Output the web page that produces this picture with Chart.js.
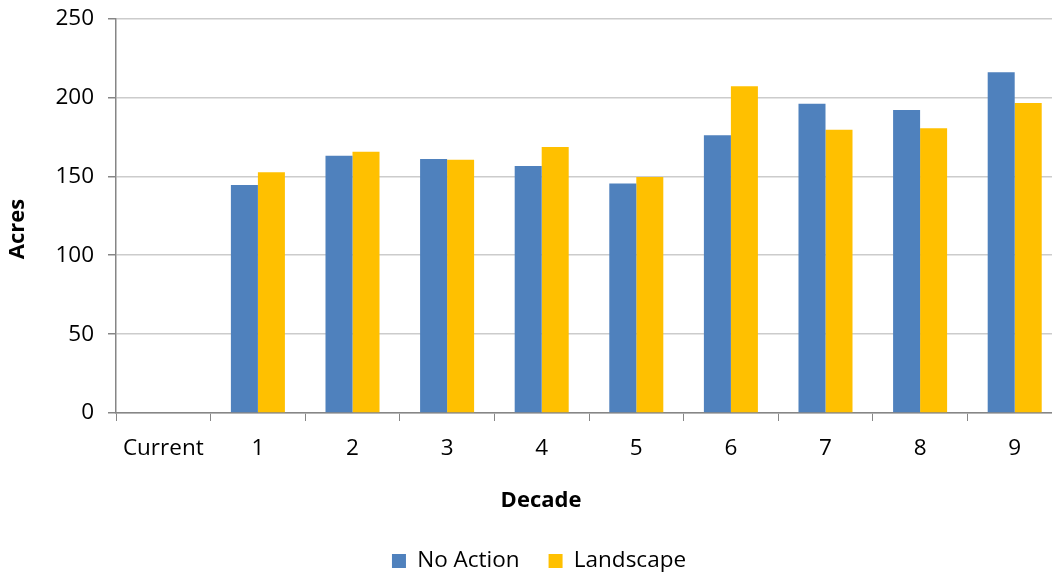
<!DOCTYPE html>
<html>
<head>
<meta charset="utf-8">
<script src="https://cdn.jsdelivr.net/npm/chart.js@4"></script>
<style>
    html, body { margin: 0; padding: 0; background: #fff; overflow: hidden; }
    /* digeser ke atas biar area plot mulai di y=18 */
    #wrap { width: 1062px; height: 585px; margin-top: -9px; }
</style>
</head>
<body>
<div id="wrap"><canvas id="chart"></canvas></div>
<script>
// Data
const categories = ['Current', '1', '2', '3', '4', '5', '6', '7', '8', '9'];
const noAction = [0, 144.5, 163, 161, 156.5, 145.5, 176, 196, 192, 216];
const landscape = [0, 152.5, 165.5, 160.5, 168.5, 149.5, 207, 179.5, 180.5, 196.5];
const yMax = 250;
const yStep = 50;
const xTitleText = 'Decade';
const yTitleText = 'Acres';

const fontFamily = '"Open Sans", "Liberation Sans", sans-serif';
const axisGrey = '#868686';
const plotBottom = 422;      // posisi sumbu x di canvas
const legendCenter = 570;    // posisi tengah legend di canvas
const legendOffsetX = 8;

// Geser legend ke posisi yang pas setelah layout selesai
const legendShift = {
    id: 'legendShift',
    afterLayout(chart) {
        const lg = chart.legend;
        const p = lg.options.labels.padding;
        const h = lg.height;
        lg.top = legendCenter - p - 11.25;
        lg.bottom = lg.top + h;
        lg.left += legendOffsetX;
        lg.right += legendOffsetX;
    }
};

// Judul sumbu digambar sendiri, posisinya tidak persis di tengah plot
const axisTitles = {
    id: 'axisTitles',
    afterDraw(chart) {
        const c = chart.ctx;
        c.save();
        c.fillStyle = '#000';
        c.font = `bold 22px ${fontFamily}`;
        c.textAlign = 'center';
        c.textBaseline = 'middle';
        c.fillText(xTitleText, 541, 510);
        c.translate(18, 238);
        c.rotate(-Math.PI / 2);
        c.fillText(yTitleText, 0, 0);
        c.restore();
    }
};

const ctx = document.getElementById('chart').getContext('2d');

new Chart(ctx, {
    type: 'bar',
    data: {
        labels: categories,
        datasets: [
            { label: 'No Action', data: noAction, backgroundColor: '#4F81BD' },
            { label: 'Landscape', data: landscape, backgroundColor: '#FFC000' }
        ]
    },
    plugins: [legendShift, axisTitles],
    options: {
        responsive: true,
        maintainAspectRatio: false,
        animation: false,
        categoryPercentage: 0.571,
        barPercentage: 1,
        layout: { padding: 0 },
        plugins: {
            legend: {
                position: 'bottom',
                labels: {
                    boxWidth: 14,
                    boxHeight: 14,
                    padding: 29,
                    color: '#000',
                    font: { family: fontFamily, size: 22.5 }
                }
            },
            tooltip: { enabled: false }
        },
        scales: {
            x: {
                grid: {
                    display: true,
                    offset: true,
                    drawOnChartArea: false,
                    tickLength: 8,
                    color: axisGrey
                },
                border: { color: axisGrey, width: 1.5 },
                ticks: {
                    color: '#000',
                    padding: 14,
                    maxRotation: 0,
                    font: { family: fontFamily, size: 22.5 }
                },
                afterFit: (scale) => {
                    scale.height = scale.chart.height - scale.chart.legend.height - plotBottom;
                }
            },
            y: {
                min: 0,
                max: yMax,
                grid: {
                    color: '#cccccc',
                    lineWidth: 1.5,
                    tickLength: 8,
                    tickColor: axisGrey
                },
                border: { color: axisGrey, width: 1.5 },
                ticks: {
                    stepSize: yStep,
                    color: '#000',
                    padding: 14,
                    font: { family: fontFamily, size: 22.5 }
                },
                afterFit: (scale) => { scale.width = 116; }
            }
        }
    }
});
</script>
</body>
</html>
